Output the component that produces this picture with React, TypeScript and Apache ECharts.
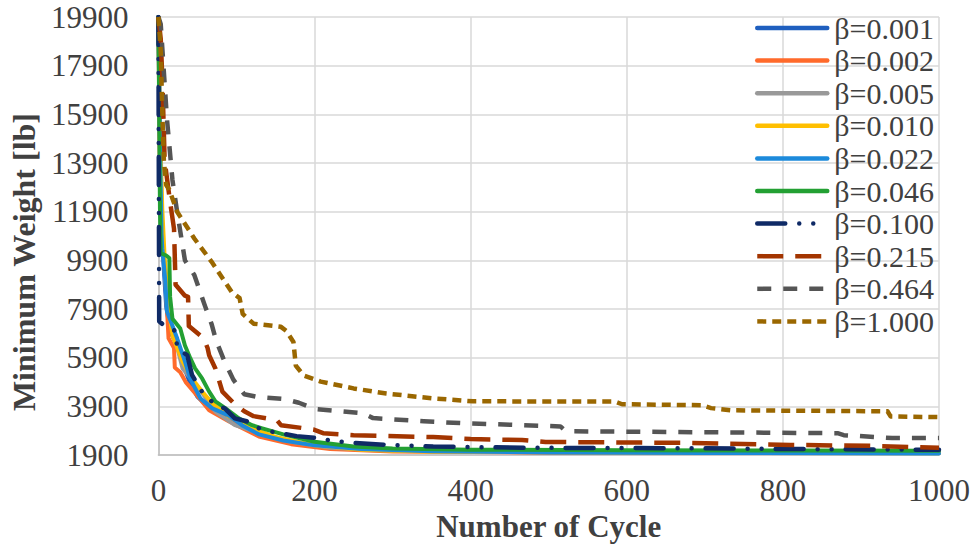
import React, { useEffect, useRef } from "react";
import * as echarts from "echarts";

const xTicks = [0, 200, 400, 600, 800, 1000];
const yTicks = [1900, 3900, 5900, 7900, 9900, 11900, 13900, 15900, 17900, 19900];

const seriesNames = [
  "β=0.001", "β=0.002", "β=0.005", "β=0.010", "β=0.022",
  "β=0.046", "β=0.100", "β=0.215", "β=0.464", "β=1.000",
];

// [cycle, minimum weight (lb)]
const b0001 = [[0,19900],[2,14000],[4,11500],[7,9500],[10,8000],[15,7000],[25,6300],[32,5600],[40,4900],[50,4300],[60,4000],[75,3700],[95,3350],[115,3000],[140,2700],[180,2400],[220,2230],[300,2100],[400,2050],[600,2020],[1000,2000]];
const b0002 = [[0,19900],[2,13000],[5,10500],[9,9100],[13,6700],[20,6300],[21,5500],[28,5300],[35,4900],[53,4220],[65,3740],[90,3290],[116,2870],[130,2650],[170,2350],[220,2150],[300,2050],[500,2000],[1000,1990]];
const b0005 = [[0,19900],[2,15000],[5,11000],[11,8000],[18,7100],[31,5460],[52,4640],[73,3690],[98,3130],[130,2800],[170,2450],[220,2200],[300,2080],[500,2020],[1000,2000]];
const b0010 = [[0,19900],[2,15500],[5,12000],[8,10000],[14,7800],[18,6800],[31,5740],[43,5050],[56,4510],[70,4000],[90,3500],[115,3050],[150,2650],[200,2300],[260,2120],[350,2040],[600,2000],[1000,1980]];
const b0022 = [[0,19900],[2,15000],[4,11000],[5,10400],[9,9000],[11,7800],[17,7300],[24,6700],[34,5750],[40,5100],[47,4650],[54,4220],[69,3820],[90,3530],[107,3130],[129,2750],[160,2500],[200,2300],[260,2150],[350,2060],[500,2010],[700,1990],[1000,1970]];
const b0046 = [[0,19900],[1,16000],[2,12000],[3,10200],[10,10100],[14,10000],[15,8400],[18,7500],[28,7100],[34,6400],[41,5870],[47,5460],[56,5050],[65,4510],[73,4110],[86,3820],[103,3410],[120,3130],[133,3000],[160,2750],[200,2450],[250,2250],[300,2170],[400,2120],[600,2100],[800,2090],[1000,2080]];
const b0100 = [[0,19900],[1,7400],[8,7200],[22,7000],[24,6300],[37,6000],[43,5200],[56,4500],[73,3950],[85,3820],[98,3410],[113,3290],[129,3000],[144,2870],[177,2680],[203,2600],[224,2480],[250,2400],[292,2320],[352,2250],[475,2200],[690,2180],[800,2150],[1000,2120]];
const b0215 = [[0,19900],[3,19000],[5,17400],[8,14000],[15,12300],[20,11200],[22,8900],[34,8450],[38,8400],[39,7200],[58,6700],[63,6300],[65,6000],[73,5460],[82,4510],[97,4020],[110,3700],[122,3500],[152,3330],[157,3130],[199,2950],[211,2800],[250,2720],[352,2640],[400,2560],[466,2520],[496,2440],[683,2400],[810,2320],[912,2280],[1000,2200]];
const b0464 = [[0,19900],[3,19600],[11,15700],[18,13200],[24,11900],[34,9900],[46,9300],[60,8000],[68,7300],[74,6600],[84,5800],[96,5000],[110,4400],[125,4300],[162,4200],[180,4050],[200,3800],[262,3620],[275,3420],[340,3290],[390,3210],[515,3080],[522,2880],[870,2800],[878,2720],[940,2600],[1000,2600]];
const b1000 = [[0,19900],[3,18500],[5,16000],[7,14000],[10,13000],[14,12800],[24,11900],[46,10800],[68,9850],[94,8600],[104,8350],[108,7700],[122,7300],[157,7170],[164,7000],[173,6550],[176,5580],[186,5170],[208,4920],[250,4640],[292,4430],[352,4230],[403,4110],[585,4100],[594,3990],[696,3950],[708,3830],[734,3740],[934,3700],[938,3490],[1000,3460]];

const seriesData = [b0001, b0002, b0005, b0010, b0022, b0046, b0100, b0215, b0464, b1000];
const colors = ["#1F5FBF", "#FF6A2B", "#999999", "#FFBF00", "#1C8ADB", "#23A033", "#0F2A66", "#A33500", "#555555", "#9A6700"];
const dashTypes: any[] = ["solid", "solid", "solid", "solid", "solid", "solid", [28, 14, 0.01, 14, 0.01, 14], [26, 12], [14, 12], [9, 6]];
const caps = ["round", "round", "round", "round", "round", "round", "round", "butt", "butt", "butt"];

const FONT = "'Liberation Serif', 'Times New Roman', serif";
const TXT = "#404040";

export default function App() {
  const ref = useRef<HTMLDivElement>(null);
  useEffect(() => {
    if (!ref.current) return;
    const chart = echarts.init(ref.current, undefined, { renderer: "svg" });
    chart.setOption({
      animation: false,
      backgroundColor: "#ffffff",
      textStyle: { fontFamily: FONT },
      grid: { left: 154, right: 40, top: 17, bottom: 90, containLabel: false },
      legend: {
        orient: "vertical",
        left: 755,
        top: 13,
        padding: 0,
        itemWidth: 70,
        itemHeight: 14,
        itemGap: 2.6,
        data: seriesNames,
        itemStyle: { opacity: 0 },
        lineStyle: { width: 4.5 },
        textStyle: { fontFamily: FONT, fontSize: 30, color: TXT, lineHeight: 30, padding: [0, 0, 0, 2] },
      },
      xAxis: {
        type: "value",
        min: xTicks[0],
        max: xTicks[xTicks.length - 1],
        interval: 200,
        name: "Number of Cycle",
        nameLocation: "middle",
        nameGap: 50,
        nameTextStyle: { fontFamily: FONT, fontSize: 31, fontWeight: "bold", color: TXT },
        axisLine: { show: true, lineStyle: { color: "#BFBFBF", width: 1.5 } },
        axisTick: { show: false },
        axisLabel: { fontFamily: FONT, fontSize: 31, color: TXT, margin: 20, formatter: (v: number) => String(v) },
        splitLine: { show: true, lineStyle: { color: "#D9D9D9", width: 1.5 } },
      },
      yAxis: {
        type: "value",
        min: yTicks[0],
        max: yTicks[yTicks.length - 1],
        interval: 2000,
        name: "Minimum Weight [lb]",
        nameLocation: "middle",
        nameGap: 114,
        nameTextStyle: { fontFamily: FONT, fontSize: 32, fontWeight: "bold", color: TXT, padding: [0, 52, 0, 0] },
        axisLine: { show: true, lineStyle: { color: "#BFBFBF", width: 1.5 } },
        axisTick: { show: false },
        axisLabel: { fontFamily: FONT, fontSize: 31, color: TXT, margin: 30, formatter: (v: number) => String(v) },
        splitLine: { show: true, lineStyle: { color: "#D9D9D9", width: 1.5 } },
      },
      series: seriesNames.map((name, i) => ({
        name,
        type: "line",
        data: seriesData[i],
        symbol: "none",
        showSymbol: false,
        smooth: false,
        clip: true,
        color: colors[i],
        lineStyle: {
          color: colors[i],
          width: i < 6 ? 4 : 4.5,
          type: dashTypes[i],
          cap: caps[i],
          join: "round",
        },
      })),
    });
    return () => chart.dispose();
  }, []);
  return (
    <div
      ref={ref}
      style={{ position: "fixed", left: 0, top: 0, width: 979, height: 547, background: "#fff" }}
    />
  );
}
